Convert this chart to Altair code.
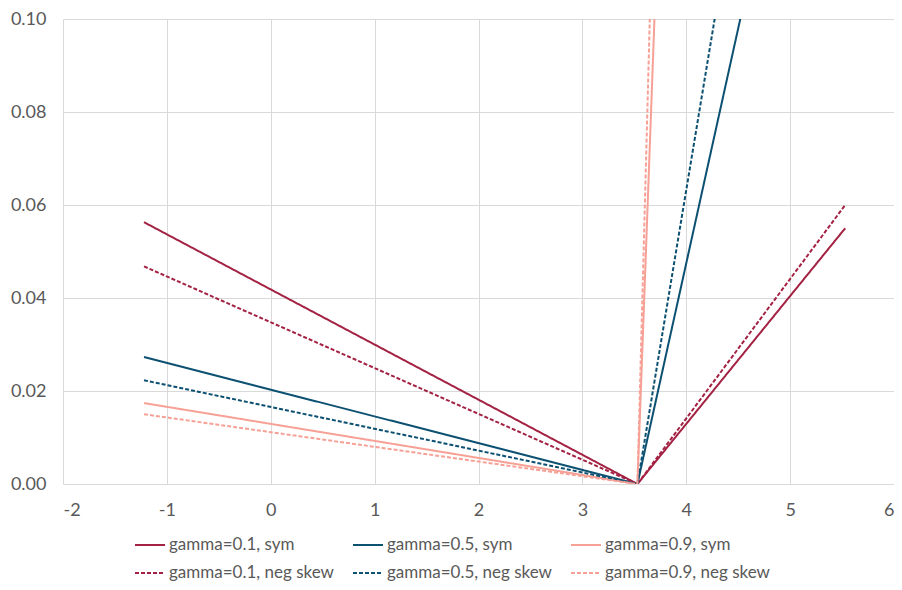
import altair as alt
import pandas as pd

series = [
    "gamma=0.1, sym", "gamma=0.5, sym", "gamma=0.9, sym",
    "gamma=0.1, neg skew", "gamma=0.5, neg skew", "gamma=0.9, neg skew",
]
colors = ["#A32142", "#0C5072", "#F6A096", "#A32142", "#0C5072", "#F6A096"]
dashes = [[1, 0], [1, 0], [1, 0], [4, 2], [4, 2], [4, 2]]

x_pts = [-1.22, 3.53, 5.53]
y_vals = {
    "gamma=0.1, sym": [0.0563, 0.0, 0.0550],
    "gamma=0.5, sym": [0.0273, 0.0, 0.2020],
    "gamma=0.9, sym": [0.0174, 0.0, 1.2200],
    "gamma=0.1, neg skew": [0.0468, 0.0, 0.0600],
    "gamma=0.5, neg skew": [0.0223, 0.0, 0.2690],
    "gamma=0.9, neg skew": [0.0150, 0.0, 1.6800],
}

rows = []
for s in series:
    for i, (xv, yv) in enumerate(zip(x_pts, y_vals[s])):
        rows.append({"series": s, "x": xv, "y": yv, "order": i})
df = pd.DataFrame(rows)

FONT = "Lato"

chart = alt.Chart(df).mark_line(strokeWidth=2, clip=True).encode(
    x=alt.X("x:Q", scale=alt.Scale(domain=[-2, 6], nice=False),
            axis=alt.Axis(values=[-2, -1, 0, 1, 2, 3, 4, 5, 6],
                          labelExpr="toString(datum.value)", title=None)),
    y=alt.Y("y:Q", scale=alt.Scale(domain=[0, 0.1], nice=False),
            axis=alt.Axis(values=[0, 0.02, 0.04, 0.06, 0.08, 0.1], format=".2f", title=None)),
    color=alt.Color("series:N", scale=alt.Scale(domain=series, range=colors),
                    legend=alt.Legend(title=None, orient="none", legendX=71, legendY=510,
                                      direction="horizontal",
                                      columns=3, symbolType="stroke", symbolSize=900,
                                      symbolStrokeWidth=2, labelFontSize=17, labelFont=FONT,
                                      labelColor="#595959", columnPadding=15, rowPadding=4,
                                      labelOffset=3, labelLimit=300)),
    strokeDash=alt.StrokeDash("series:N", scale=alt.Scale(domain=series, range=dashes)),
    order="order:Q",
).properties(
    width=831, height=465,
    padding={"left": 55, "top": 11, "right": 0, "bottom": 98},
    autosize=alt.AutoSizeParams(type="none"),
    background="white",
).configure_view(stroke=None).configure_axis(
    grid=True, gridColor="#D9D9D9", gridWidth=1, domain=False, ticks=False,
    labelFont=FONT, labelFontSize=18, labelColor="#595959", labelPadding=17,
).configure_axisY(labelPadding=17)

chart.save("out.html", embed_options={"renderer": "svg", "actions": False})
